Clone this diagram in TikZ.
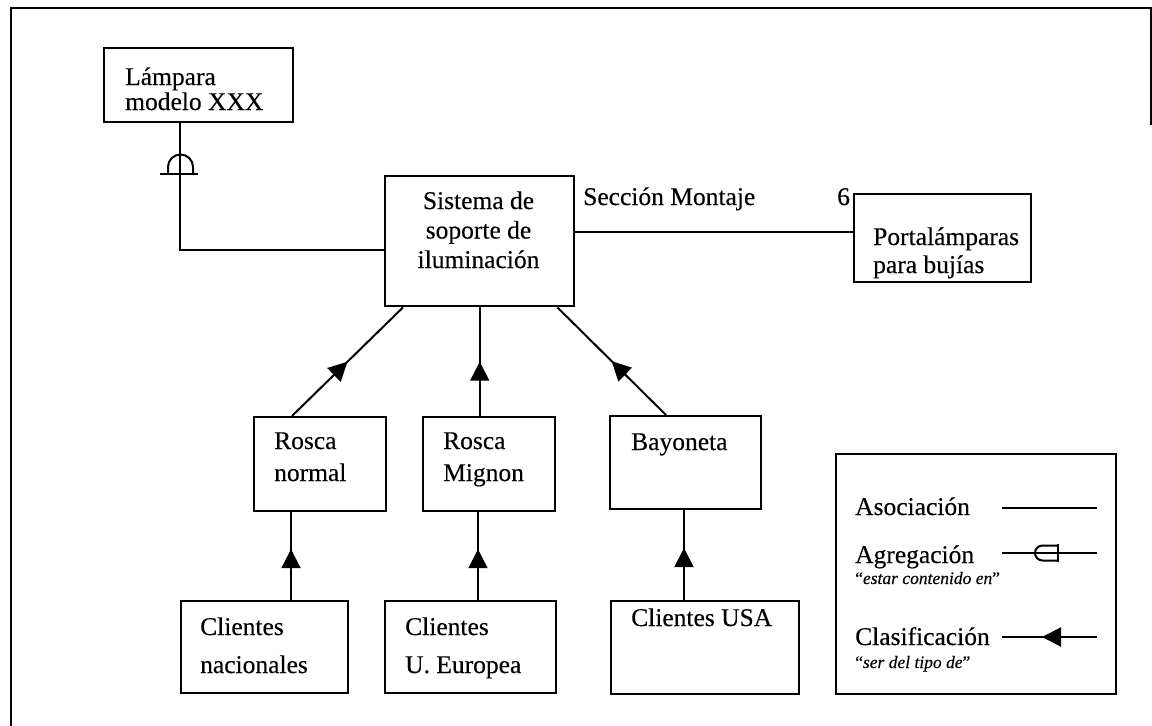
\documentclass[tikz,border=0pt]{standalone}
\usepackage{fontspec}
\setmainfont{Liberation Serif}[FakeBold=0.3]
\usetikzlibrary{arrows.meta,decorations.markings}
\newcommand\lftlines[1]{\vtop{\lineskiplimit=-30pt\halign{##\hfil\cr#1\crcr}}}
\newcommand\ctrlines[1]{\vtop{\lineskiplimit=-30pt\halign{\hfil##\hfil\cr#1\crcr}}}
\begin{document}
\begin{tikzpicture}[x=1pt,y=-1pt,
  box/.style={draw, line width=2.4pt, inner sep=0pt, anchor=north west},
  txt/.style={inner sep=0pt, anchor=base west, font=\fontsize{25.5}{29}\selectfont},
  small/.style={inner sep=0pt, anchor=base west, font=\fontsize{17.5}{20}\selectfont},
  conn/.style={draw, line width=2pt},
  cls/.style={conn, postaction={decorate}, decoration={markings,
      mark=at position #1 with {\arrow{Triangle[length=19pt,width=19pt]}}}},
  frame/.style={draw, line width=2.5pt}
]
\useasboundingbox (0,0) rectangle (1152,726);
\draw[frame] (11,726) -- (11,8) -- (1151,8) -- (1151,125);

% boxes
\node[box, minimum width=189pt, minimum height=74pt] (lamp) at (103,47) {};
\node[box, minimum width=189pt, minimum height=130pt] (sis) at (384,175) {};
\node[box, minimum width=177pt, minimum height=88pt] (port) at (853,193) {};
\node[box, minimum width=132pt, minimum height=94pt] (rn) at (253,416) {};
\node[box, minimum width=132pt, minimum height=94pt] (rm) at (422,416) {};
\node[box, minimum width=151pt, minimum height=93pt] (bay) at (609,415) {};
\node[box, minimum width=167pt, minimum height=92pt] (cn) at (180,600) {};
\node[box, minimum width=171pt, minimum height=92pt] (ce) at (384,600) {};
\node[box, minimum width=188pt, minimum height=93pt] (cu) at (610,600) {};
\node[box, minimum width=280pt, minimum height=240pt] (leg) at (835,453) {};

% texts
\node[txt, font=\fontsize{25.5}{25}\selectfont] (lampT) at (125,85) {\lftlines{Lámpara\cr modelo XXX}};
\node[txt, anchor=base, font=\fontsize{25.5}{29.5}\selectfont] (sisT) at (478.5,209) {\ctrlines{Sistema de\cr soporte de\cr iluminación}};
\node[txt] (secT) at (583,205) {Sección Montaje};
\node[txt] (sixT) at (837,205) {6};
\node[txt, font=\fontsize{25.5}{28}\selectfont] (portT) at (873,245) {\lftlines{Portalámparas\cr para bujías}};
\node[txt, font=\fontsize{25.5}{32}\selectfont] (rnT) at (274,449) {\lftlines{Rosca\cr normal}};
\node[txt, font=\fontsize{25.5}{32}\selectfont] (rmT) at (443,449) {\lftlines{Rosca\cr Mignon}};
\node[txt] (bayT) at (631,450) {Bayoneta};
\node[txt, font=\fontsize{25.5}{38}\selectfont] (cnT) at (200,635) {\lftlines{Clientes\cr nacionales}};
\node[txt, font=\fontsize{25.5}{38}\selectfont] (ceT) at (405,635) {\lftlines{Clientes\cr U. Europea}};
\node[txt] (cuT) at (631,626) {Clientes USA};

\node[txt] (asoT) at (855,515) {Asociación};
\node[txt] (agrT) at (855,563) {Agregación};
\node[small] (agrS) at (855,584) {“\textit{estar contenido en}”};
\node[txt] (claT) at (855,645) {Clasificación};
\node[small] (claS) at (855,668) {“\textit{ser del tipo de}”};

% aggregation connector
\draw[conn] ([xshift=77pt]lamp.south west) |- ([yshift=-9pt]sis.west);
\draw[conn] (160,174) -- (198,174);
\draw[conn] (168,174) -- (168,167) arc[start angle=180, end angle=0, radius=12.5pt] -- (193,174);

% association
\draw[conn] ([yshift=9pt]sis.east) -- ([yshift=9pt]sis.east -| port.west);

% classification
\draw[cls=0.5] ([xshift=39pt]rn.north west) -- ([xshift=19pt]sis.south west);
\draw[cls=0.5] (sis.south |- rm.north) -- (sis.south);
\draw[cls=0.5] ([xshift=57pt]bay.north west) -- ([xshift=-18pt]sis.south east);
\draw[cls=0.58] (cn.north -| 291,0) -- (rn.south -| 291,0);
\draw[cls=0.58] (ce.north -| 478,0) -- (rm.south -| 478,0);
\draw[cls=0.58] (cu.north -| 684,0) -- (bay.south -| 684,0);

% legend samples
\coordinate (a1) at (1002,508); \coordinate (a2) at (1097,508);
\draw[conn] (a1) -- (a2);
\coordinate (g1) at (1002,553); \coordinate (g2) at (1097,553);
\draw[conn] (g1) -- (g2);
\draw[conn] (1058,544) -- (1058,562);
\draw[conn] (1058,545.5) -- (1042.5,545.5) arc[start angle=90, end angle=270, radius=7.5pt] -- (1058,560.5);
\coordinate (c1) at (1097,637); \coordinate (c2) at (1002,637);
\draw[cls=0.579] (c1) -- (c2);
\end{tikzpicture}
\end{document}
